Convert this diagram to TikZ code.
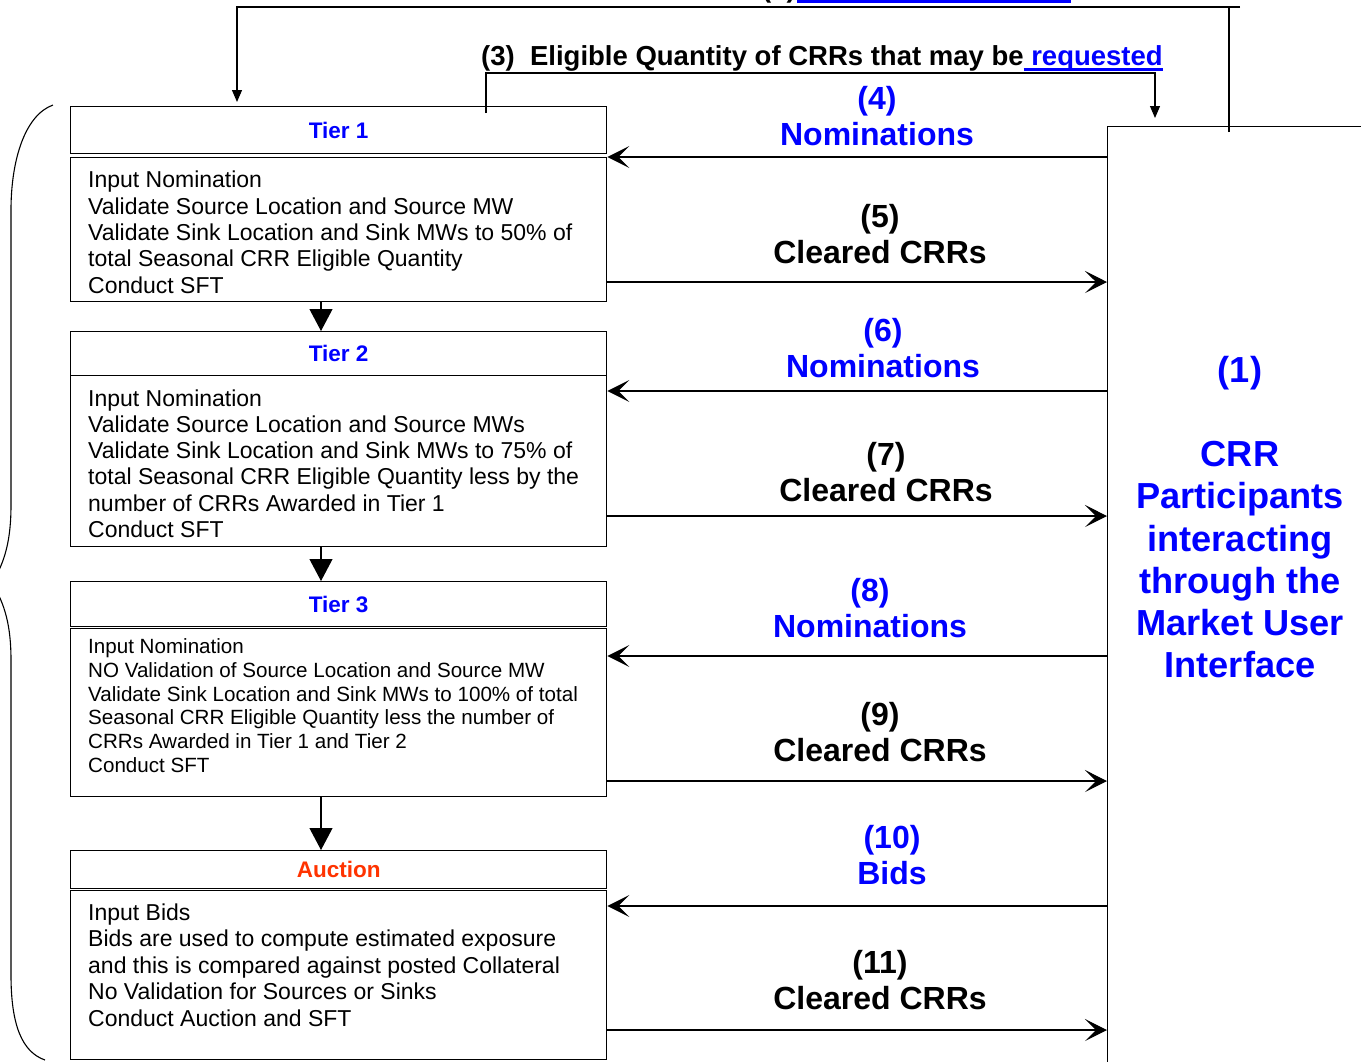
\documentclass[tikz,border=0pt]{standalone}
\usepackage{fontspec}
\setmainfont{Liberation Sans}
\usetikzlibrary{arrows.meta}
\definecolor{tierblue}{RGB}{0,0,255}
\definecolor{auctionred}{RGB}{255,51,0}
\newsavebox\linkbox
\newcommand{\linkul}[1]{\sbox\linkbox{#1}\rlap{\rule[-6pt]{\wd\linkbox}{3pt}}\usebox\linkbox}
\begin{document}
\begin{tikzpicture}[x=1pt,y=-1pt,
	tierhead/.style={draw, line width=1.3pt, anchor=north west, inner sep=0pt, minimum width=536pt, font=\fontsize{22.5}{26}\selectfont\bfseries},
	tierbody/.style={draw, line width=1.3pt, anchor=north west, inner sep=0pt, minimum width=536pt},
	tiertext/.style={anchor=base west, inner sep=0pt, align=left},
	flowlabel/.style={align=center, inner sep=0pt, font=\fontsize{32}{36}\selectfont\bfseries},
	notelabel/.style={anchor=base west, inner sep=0pt, font=\fontsize{27.5}{32}\selectfont\bfseries},
	flowarrow/.style={line width=1.1pt, -{Stealth[length=22pt,width=22pt,inset=11pt]}},
	tierarrow/.style={line width=1.1pt, -{Triangle[length=22pt,width=23pt]}},
	feedarrow/.style={line width=1.1pt, -{Triangle[length=12pt,width=10pt]}}]
	
	\useasboundingbox (0,0) rectangle (1361,1061);
	\clip (0,0) rectangle (1361,1061);
	
	% brace round the tiers
	\draw[line width=1.1pt] (53,105) .. controls (25,115) and (11,160) .. (11,210) -- (11,505) .. controls (11,540) and (5,562) .. (-8,583) .. controls (5,604) and (11,626) .. (11,660) -- (11,975) .. controls (11,1025) and (22,1052) .. (45,1060);
	
	% tiers (text nodes sit on the baseline of their last line)
	\node[tierhead, minimum height=47pt, text=tierblue] (tier1head) at (70,106) {Tier 1};
	\node[tierbody, minimum height=144pt] (tier1body) at (70,157) {};
	\node[tiertext, font=\fontsize{23}{26.3}\selectfont] (tier1text) at (88,293) {Input Nomination\\Validate Source Location and Source MW\\Validate Sink Location and Sink MWs to 50\% of\\total Seasonal CRR Eligible Quantity\\Conduct SFT};
	
	\node[tierhead, minimum height=44pt, text=tierblue] (tier2head) at (70,331) {Tier 2};
	\node[tierbody, minimum height=171pt] (tier2body) at (70,375) {};
	\node[tiertext, font=\fontsize{23}{26.3}\selectfont] (tier2text) at (88,537.5) {Input Nomination\\Validate Source Location and Source MWs\\Validate Sink Location and Sink MWs to 75\% of\\total Seasonal CRR Eligible Quantity less by the\\number of CRRs Awarded in Tier 1\\Conduct SFT};
	
	\node[tierhead, minimum height=45pt, text=tierblue] (tier3head) at (70,581) {Tier 3};
	\node[tierbody, minimum height=168pt] (tier3body) at (70,628) {};
	\node[tiertext, font=\fontsize{20.6}{23.8}\selectfont] (tier3text) at (88,772.5) {Input Nomination\\NO Validation of Source Location and Source MW\\Validate Sink Location and Sink MWs to 100\% of total\\Seasonal CRR Eligible Quantity less the number of\\CRRs Awarded in Tier 1 and Tier 2\\Conduct SFT};
	
	\node[tierhead, minimum height=38pt, text=auctionred] (auchead) at (70,850) {Auction};
	\node[tierbody, minimum height=169pt] (aucbody) at (70,890) {};
	\node[tiertext, font=\fontsize{23}{26.5}\selectfont] (auctext) at (88,1026) {Input Bids\\Bids are used to compute estimated exposure\\and this is compared against posted Collateral\\No Validation for Sources or Sinks\\Conduct Auction and SFT};
	
	\coordinate (spine) at (321,0);
	\draw[tierarrow] (tier1body.south -| spine) -- (tier2head.north -| spine);
	\draw[tierarrow] (tier2body.south -| spine) -- (tier3head.north -| spine);
	\draw[tierarrow] (tier3body.south -| spine) -- (auchead.north -| spine);
	
	% participants
	\node[draw, line width=1.3pt, anchor=north west, inner sep=0pt, minimum width=300pt, minimum height=960pt] (crr) at (1107,126) {};
	\node[align=center, text=tierblue, font=\fontsize{36.2}{42.2}\selectfont\bfseries] (crrtext) at (1240,517) {(1)\\[42.2pt]CRR\\Participants\\interacting\\through the\\Market User\\Interface};
	
	% top feeds
	\node[notelabel] (note2) at (762,-3) {(2)};
	\draw[tierblue, line width=3pt] (797,1.5) -- (1071,1.5);
	\coordinate (loop2) at (237,7);
	\coordinate (out2) at (1229,132);
	\draw[line width=1.1pt] (out2) -- (out2 |- loop2);
	\draw[feedarrow, shorten >=4pt] (1240,7) -| (tier1head.north -| loop2);
	
	\node[notelabel] (note3) at (481,65) {(3)~~Eligible Quantity of CRRs that may be\textcolor{tierblue}{\linkul{\ requested}}};
	\coordinate (out3) at (486,113);
	\coordinate (loop3) at (1155,73);
	\draw[feedarrow, shorten >=8pt] (out3) |- (loop3) -- (crr.north -| loop3);
	
	% nominations and cleared CRRs
	\draw[flowarrow] (crr.west |- 0,157) -- (tier1body.east |- 0,157);
	\draw[flowarrow] (tier1body.east |- 0,282) -- (crr.west |- 0,282);
	\draw[flowarrow] (crr.west |- 0,391) -- (tier2body.east |- 0,391);
	\draw[flowarrow] (tier2body.east |- 0,516) -- (crr.west |- 0,516);
	\draw[flowarrow] (crr.west |- 0,656) -- (tier3body.east |- 0,656);
	\draw[flowarrow] (tier3body.east |- 0,781) -- (crr.west |- 0,781);
	\draw[flowarrow] (crr.west |- 0,906) -- (aucbody.east |- 0,906);
	\draw[flowarrow] (aucbody.east |- 0,1030) -- (crr.west |- 0,1030);
	
	\node[flowlabel, text=tierblue] (lbl4) at (877,116) {(4)\\Nominations};
	\node[flowlabel] (lbl5) at (880,234) {(5)\\Cleared CRRs};
	\node[flowlabel, text=tierblue] (lbl6) at (883,348) {(6)\\Nominations};
	\node[flowlabel] (lbl7) at (886,472) {(7)\\Cleared CRRs};
	\node[flowlabel, text=tierblue] (lbl8) at (870,608) {(8)\\Nominations};
	\node[flowlabel] (lbl9) at (880,732) {(9)\\Cleared CRRs};
	\node[flowlabel, text=tierblue] (lbl10) at (892,855) {(10)\\Bids};
	\node[flowlabel] (lbl11) at (880,980) {(11)\\Cleared CRRs};
	
\end{tikzpicture}
\end{document}
